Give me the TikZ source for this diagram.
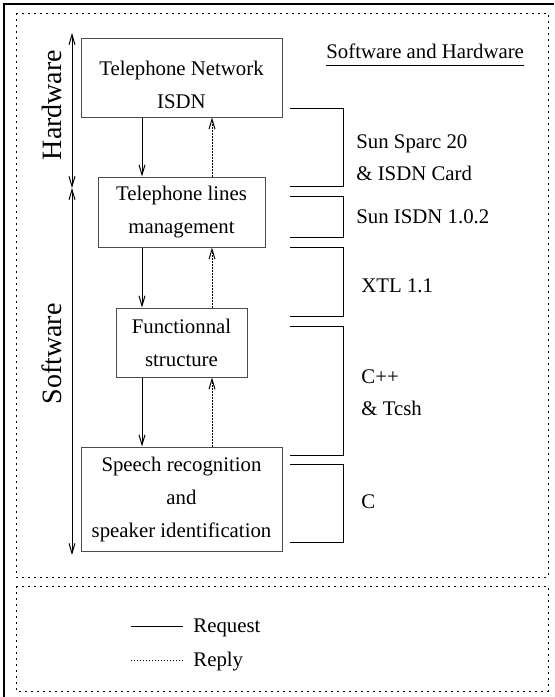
\documentclass[tikz,border=0pt]{standalone}
\usepackage{fontspec}
\setmainfont{Liberation Serif}
\usetikzlibrary{arrows.meta}
\tikzset{
  >={Straight Barb[length=5pt,width=3pt]},
  frame/.style={draw=black,line width=1pt},
  panel/.style={draw=black,line width=0.5pt,dash pattern=on 1pt off 2pt},
  block/.style={draw=black!70,line width=0.5pt,inner sep=0pt,align=center,font=\fontsize{10.4}{16.5}\selectfont},
  boxtext/.style={inner sep=0pt,align=center,font=\fontsize{10.4}{16.5}\selectfont},
  annot/.style={inner sep=0pt,anchor=base west,font=\fontsize{10.4}{12.5}\selectfont},
  layer/.style={inner sep=0pt,rotate=90,font=\fontsize{14}{16.8}\selectfont},
  bracket/.style={draw=black,line width=0.5pt},
  reqline/.style={draw=black,line width=0.5pt},
  repline/.style={draw=black,line width=0.5pt,dash pattern=on 0.6pt off 0.9pt},
  request/.style={reqline,->},
  reply/.style={repline,->},
  span/.style={draw=black,line width=0.5pt,<->}
}
\begin{document}
\begin{tikzpicture}[x=.5pt,y=-.5pt]
\path[use as bounding box] (0,0) rectangle (554,697);
% frame and panels
\draw[frame] (4,697) -- (4,4) -- (554,4);
\draw[panel] (16,13) rectangle (548,577);
\draw[panel] (16,586) rectangle (548,691);
% layers
\node[block,minimum width=100.5pt,minimum height=39.5pt] (net) at (181.5,77.5) {};
\node[boxtext] (nettext) at (181.5,85) {Telephone Network\\ISDN};
\node[block,minimum width=83.5pt,minimum height=35pt] (lines) at (181.5,212) {Telephone lines\\management};
\node[block,minimum width=65.5pt,minimum height=34.5pt] (func) at (181.5,342.5) {Functionnal\\structure};
\node[block,minimum width=100.5pt,minimum height=52pt] (speech) at (181.5,499) {Speech recognition\\and\\speaker identification};
\coordinate (reqx) at (142,0);
\coordinate (repx) at (212,0);
\draw[request] (net.south -| reqx) -- (lines.north -| reqx);
\draw[reply] (lines.north -| repx) -- (net.south -| repx);
\draw[request] (lines.south -| reqx) -- (func.north -| reqx);
\draw[reply] (func.north -| repx) -- (lines.south -| repx);
\draw[request] (func.south -| reqx) -- (speech.north -| reqx);
\draw[reply] (speech.north -| repx) -- (func.south -| repx);
% hardware / software spans
\coordinate (hwtop) at (72,33);
\coordinate (hwsw) at (72,188);
\coordinate (swbot) at (72,555);
\draw[span] (hwtop) -- (hwsw);
\draw[span] (hwsw) -- (swbot);
\node[layer] (hwlabel) at (52,105) {Hardware};
\node[layer] (swlabel) at (52,354) {Software};
% tools
\node[annot] (title) at (326,58) {Software and Hardware};
\draw[reqline] ([yshift=-3.5pt]title.south west) -- ([yshift=-3.5pt]title.south east);
\draw[bracket] (290,108) -| (343,186) -- (290,186);
\draw[bracket] (290,196) -| (343,237) -- (290,237);
\draw[bracket] (290,247) -| (343,316) -- (290,316);
\draw[bracket] (290,326) -| (343,455) -- (290,455);
\draw[bracket] (290,464) -| (343,542) -- (290,542);
\node[annot] (sparc) at (356,148) {Sun Sparc 20};
\node[annot] (card) at (356,180) {\& ISDN Card};
\node[annot] (sunisdn) at (356,223) {Sun ISDN 1.0.2};
\node[annot] (xtl) at (361,292) {XTL 1.1};
\node[annot] (cpp) at (361,383) {C++};
\node[annot] (tcsh) at (361,415) {\& Tcsh};
\node[annot] (clang) at (361,508) {C};
% legend
\node[annot] (reqtext) at (193,632) {Request};
\node[annot] (reptext) at (193,666) {Reply};
\draw[reqline] (131,626) -- (183,626);
\draw[repline] (131,660) -- (183,660);
\end{tikzpicture}
\end{document}
